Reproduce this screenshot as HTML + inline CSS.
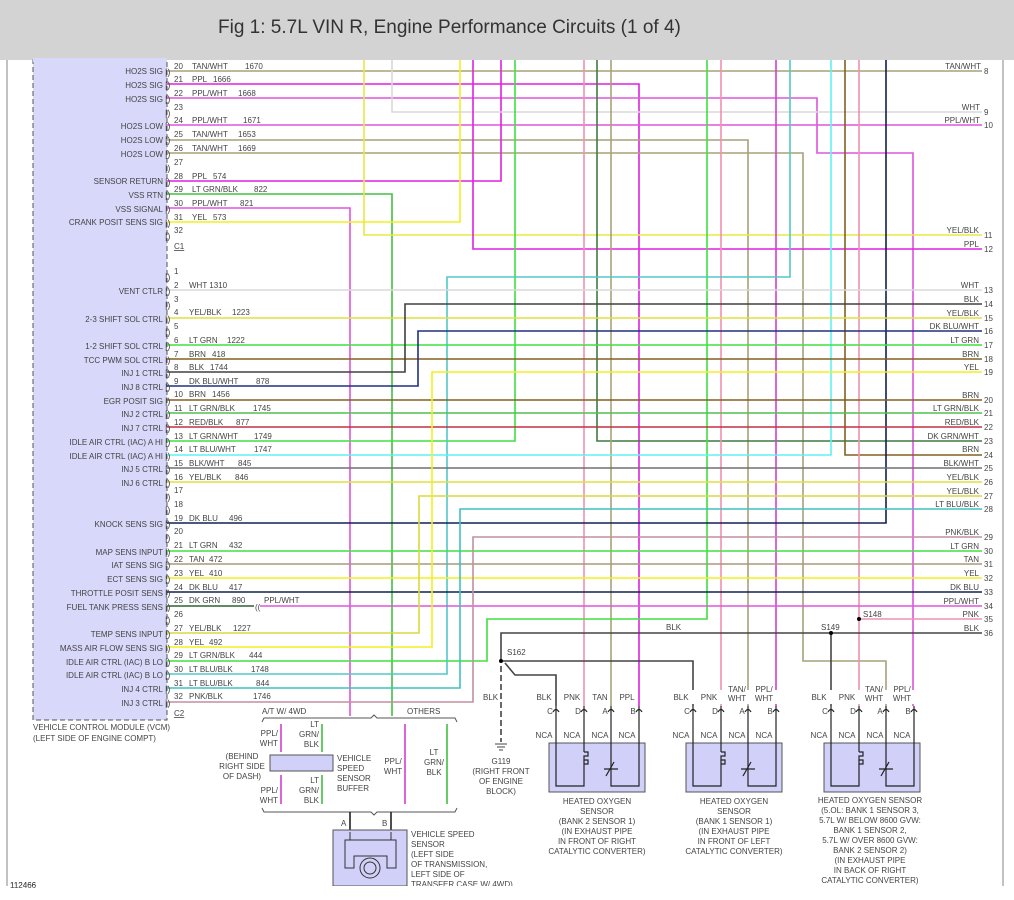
<!DOCTYPE html>
<html><head><meta charset="utf-8"><style>
html,body{margin:0;padding:0;background:#fff;}
svg{display:block;font-family:"Liberation Sans",sans-serif;}
.t{font-size:8px;fill:#444;}
.r{text-anchor:end}
.m{text-anchor:middle}
.w{fill:none;stroke-width:1.6}
</style></head><body>
<svg width="1014" height="900" viewBox="0 0 1014 900" xmlns="http://www.w3.org/2000/svg">
<rect x="0" y="0" width="1014" height="60" fill="#d3d3d3"/>
<text x="218" y="33" style="font-size:19px;fill:#333">Fig 1: 5.7L VIN R, Engine Performance Circuits (1 of 4)</text>
<line x1="7" y1="60" x2="7" y2="886" stroke="#999" stroke-width="1.2"/>
<line x1="1003" y1="60" x2="1003" y2="886" stroke="#999" stroke-width="1.2"/>
<!-- VCM box -->
<rect x="33" y="60" width="134" height="660" fill="#d8d8fa" stroke="#555" stroke-dasharray="5,3"/>
<rect x="33" y="58" width="134" height="4" fill="#d8d8fa"/>
<text class="t" x="33" y="730">VEHICLE CONTROL MODULE (VCM)</text>
<text class="t" x="33" y="741">(LEFT SIDE OF ENGINE COMPT)</text>
<text class="t" x="10" y="888">112466</text>

<!-- wires -->
<g class="w">
<!-- C1 -->
<polyline stroke="#a8a07a" points="167,71 982,71"/>
<polyline stroke="#e020e0" points="167,84 639,84 639,706"/>
<polyline stroke="#dd55dd" points="167,98 817,98 817,153 913,153 913,706"/>
<polyline stroke="#dd55dd" points="167,125 982,125"/>
<polyline stroke="#a8a07a" points="167,140 748,140 748,706"/>
<polyline stroke="#a8a07a" points="167,153 803,153 803,661 886,661 886,706"/>
<polyline stroke="#e020e0" points="167,181 501,181 501,60"/>
<polyline stroke="#44c044" points="167,194 392,194 392,716"/>
<polyline stroke="#dd55dd" points="167,208 350,208 350,716"/>
<polyline stroke="#f0f020" points="167,222 460,222 460,60"/>
<polyline stroke="#e8e840" points="364,60 364,235 982,235"/>
<polyline stroke="#d8d8d8" points="392,60 392,112 982,112"/>
<polyline stroke="#e020e0" points="473,60 473,249 982,249"/>
<polyline stroke="#40e040" points="515,60 515,441 167,441"/>
<polyline stroke="#f090b0" points="584,60 584,706"/>
<polyline stroke="#407a40" points="597,60 597,441 982,441"/>
<polyline stroke="#a8a07a" points="611,60 611,706"/>
<polyline stroke="#40e040" points="707,60 707,619 487,619 487,661 167,661"/>
<polyline stroke="#f090b0" points="721,60 721,706"/>
<polyline stroke="#d040d0" points="776,60 776,706"/>
<polyline stroke="#50c8c8" points="790,60 790,277 447,277 447,674 167,674"/>
<polyline stroke="#60f0f0" points="831,60 831,455 167,455"/>
<polyline stroke="#806020" points="845,60 845,455 982,455"/>
<polyline stroke="#f090b0" points="859,60 859,706"/>
<polyline stroke="#f090b0" points="859,619 982,619"/>
<polyline stroke="#102050" points="886,60 886,523 167,523"/>
<!-- C2 -->
<polyline stroke="#d8d8d8" points="167,290 982,290"/>
<polyline stroke="#e0e040" points="167,318 982,318"/>
<polyline stroke="#40e040" points="167,345 982,345"/>
<polyline stroke="#806020" points="167,359 982,359"/>
<polyline stroke="#404040" points="167,372 405,372 405,304 982,304"/>
<polyline stroke="#203080" points="167,386 418,386 418,331 982,331"/>
<polyline stroke="#806020" points="167,400 982,400"/>
<polyline stroke="#50c050" points="167,413 982,413"/>
<polyline stroke="#c03040" points="167,427 982,427"/>
<polyline stroke="#707070" points="167,468 982,468"/>
<polyline stroke="#e0e040" points="167,482 982,482"/>
<polyline stroke="#40e040" points="167,551 982,551"/>
<polyline stroke="#a8987a" points="167,564 982,564"/>
<polyline stroke="#f0f020" points="167,578 982,578"/>
<polyline stroke="#102050" points="167,592 982,592"/>
<polyline stroke="#306030" points="167,606 254,606"/>
<polyline stroke="#dd55dd" points="260,606 982,606"/>
<polyline stroke="#d8d840" points="167,633 419,633 419,496 982,496"/>
<polyline stroke="#f0f020" points="167,647 432,647 432,372 982,372"/>
<polyline stroke="#40c0c0" points="167,688 460,688 460,509 982,509"/>
<polyline stroke="#c090a0" points="167,702 473,702 473,537 982,537"/>
<!-- BLK ground -->
<polyline stroke="#444" points="501,661 501,633 982,633"/>
<polyline stroke="#444" points="501,661 693,661 693,706"/>
<polyline stroke="#444" points="505,663 515,675 556,675 556,706"/>
<polyline stroke="#444" points="831,633 831,706"/>
</g>
<text class="t" x="255" y="610">((</text>
<line x1="501" y1="666" x2="501" y2="742" stroke="#444" stroke-width="1.6" stroke-dasharray="6,3"/>
<circle cx="501" cy="661" r="2" fill="#000"/>
<circle cx="831" cy="633" r="2" fill="#000"/>
<circle cx="859" cy="619" r="2" fill="#000"/>
<g stroke="#444" stroke-width="1"><line x1="495" y1="744" x2="507" y2="744"/><line x1="497" y1="747" x2="505" y2="747"/><line x1="499" y1="750" x2="503" y2="750"/></g>
<text class="t" x="507" y="655">S162</text>
<text class="t" x="821" y="630">S149</text>
<text class="t" x="863" y="617">S148</text>
<text class="t" x="666" y="630">BLK</text>
<text class="t" x="483" y="700">BLK</text>
<text class="t m" x="501" y="764">G119</text>
<text class="t m" x="501" y="774">(RIGHT FRONT</text>
<text class="t m" x="501" y="784">OF ENGINE</text>
<text class="t m" x="501" y="794">BLOCK)</text>

<!-- left labels & pins -->
<g class="t">
<text class="r" x="163" y="74">HO2S SIG</text><text class="r" x="163" y="88">HO2S SIG</text><text class="r" x="163" y="102">HO2S SIG</text>
<text class="r" x="163" y="129">HO2S LOW</text><text class="r" x="163" y="143">HO2S LOW</text><text class="r" x="163" y="157">HO2S LOW</text>
<text class="r" x="163" y="184">SENSOR RETURN</text><text class="r" x="163" y="198">VSS RTN</text><text class="r" x="163" y="212">VSS SIGNAL</text><text class="r" x="163" y="225">CRANK POSIT SENS SIG</text>
<text class="r" x="163" y="294">VENT CTLR</text><text class="r" x="163" y="322">2-3 SHIFT SOL CTRL</text><text class="r" x="163" y="349">1-2 SHIFT SOL CTRL</text>
<text class="r" x="163" y="363">TCC PWM SOL CTRL</text><text class="r" x="163" y="376">INJ 1 CTRL</text><text class="r" x="163" y="390">INJ 8 CTRL</text>
<text class="r" x="163" y="404">EGR POSIT SIG</text><text class="r" x="163" y="417">INJ 2 CTRL</text><text class="r" x="163" y="431">INJ 7 CTRL</text>
<text class="r" x="163" y="445">IDLE AIR CTRL (IAC) A HI</text><text class="r" x="163" y="459">IDLE AIR CTRL (IAC) A HI</text>
<text class="r" x="163" y="472">INJ 5 CTRL</text><text class="r" x="163" y="486">INJ 6 CTRL</text><text class="r" x="163" y="527">KNOCK SENS SIG</text>
<text class="r" x="163" y="555">MAP SENS INPUT</text><text class="r" x="163" y="568">IAT SENS SIG</text><text class="r" x="163" y="582">ECT SENS SIG</text>
<text class="r" x="163" y="596">THROTTLE POSIT SENS</text><text class="r" x="163" y="610">FUEL TANK PRESS SENS</text>
<text class="r" x="163" y="637">TEMP SENS INPUT</text><text class="r" x="163" y="651">MASS AIR FLOW SENS SIG</text>
<text class="r" x="163" y="665">IDLE AIR CTRL (IAC) B LO</text><text class="r" x="163" y="678">IDLE AIR CTRL (IAC) B LO</text>
<text class="r" x="163" y="692">INJ 4 CTRL</text><text class="r" x="163" y="706">INJ 3 CTRL</text>

<text x="174" y="69">20</text><text x="192" y="69">TAN/WHT</text><text x="245" y="69">1670</text>
<text x="174" y="82">21</text><text x="192" y="82">PPL</text><text x="213" y="82">1666</text>
<text x="174" y="96">22</text><text x="192" y="96">PPL/WHT</text><text x="238" y="96">1668</text>
<text x="174" y="110">23</text>
<text x="174" y="123">24</text><text x="192" y="123">PPL/WHT</text><text x="243" y="123">1671</text>
<text x="174" y="137">25</text><text x="192" y="137">TAN/WHT</text><text x="238" y="137">1653</text>
<text x="174" y="151">26</text><text x="192" y="151">TAN/WHT</text><text x="238" y="151">1669</text>
<text x="174" y="165">27</text>
<text x="174" y="179">28</text><text x="192" y="179">PPL</text><text x="213" y="179">574</text>
<text x="174" y="192">29</text><text x="192" y="192">LT GRN/BLK</text><text x="254" y="192">822</text>
<text x="174" y="206">30</text><text x="192" y="206">PPL/WHT</text><text x="240" y="206">821</text>
<text x="174" y="220">31</text><text x="192" y="220">YEL</text><text x="213" y="220">573</text>
<text x="174" y="233">32</text>
<text x="174" y="249" text-decoration="underline">C1</text>
<text x="174" y="274">1</text>
<text x="174" y="288">2</text><text x="189" y="288">WHT 1310</text>
<text x="174" y="302">3</text>
<text x="174" y="315">4</text><text x="189" y="315">YEL/BLK</text><text x="232" y="315">1223</text>
<text x="174" y="329">5</text>
<text x="174" y="343">6</text><text x="189" y="343">LT GRN</text><text x="227" y="343">1222</text>
<text x="174" y="357">7</text><text x="189" y="357">BRN</text><text x="212" y="357">418</text>
<text x="174" y="370">8</text><text x="189" y="370">BLK</text><text x="210" y="370">1744</text>
<text x="174" y="384">9</text><text x="189" y="384">DK BLU/WHT</text><text x="256" y="384">878</text>
<text x="174" y="397">10</text><text x="189" y="397">BRN</text><text x="212" y="397">1456</text>
<text x="174" y="411">11</text><text x="189" y="411">LT GRN/BLK</text><text x="253" y="411">1745</text>
<text x="174" y="425">12</text><text x="189" y="425">RED/BLK</text><text x="236" y="425">877</text>
<text x="174" y="439">13</text><text x="189" y="439">LT GRN/WHT</text><text x="254" y="439">1749</text>
<text x="174" y="452">14</text><text x="189" y="452">LT BLU/WHT</text><text x="254" y="452">1747</text>
<text x="174" y="466">15</text><text x="189" y="466">BLK/WHT</text><text x="238" y="466">845</text>
<text x="174" y="480">16</text><text x="189" y="480">YEL/BLK</text><text x="235" y="480">846</text>
<text x="174" y="493">17</text><text x="174" y="507">18</text>
<text x="174" y="521">19</text><text x="189" y="521">DK BLU</text><text x="229" y="521">496</text>
<text x="174" y="534">20</text>
<text x="174" y="548">21</text><text x="189" y="548">LT GRN</text><text x="229" y="548">432</text>
<text x="174" y="562">22</text><text x="189" y="562">TAN</text><text x="209" y="562">472</text>
<text x="174" y="576">23</text><text x="189" y="576">YEL</text><text x="209" y="576">410</text>
<text x="174" y="590">24</text><text x="189" y="590">DK BLU</text><text x="229" y="590">417</text>
<text x="174" y="603">25</text><text x="189" y="603">DK GRN</text><text x="232" y="603">890</text><text x="264" y="603">PPL/WHT</text>
<text x="174" y="617">26</text>
<text x="174" y="631">27</text><text x="189" y="631">YEL/BLK</text><text x="233" y="631">1227</text>
<text x="174" y="645">28</text><text x="189" y="645">YEL</text><text x="209" y="645">492</text>
<text x="174" y="658">29</text><text x="189" y="658">LT GRN/BLK</text><text x="249" y="658">444</text>
<text x="174" y="672">30</text><text x="189" y="672">LT BLU/BLK</text><text x="251" y="672">1748</text>
<text x="174" y="686">31</text><text x="189" y="686">LT BLU/BLK</text><text x="256" y="686">844</text>
<text x="174" y="699">32</text><text x="189" y="699">PNK/BLK</text><text x="253" y="699">1746</text>
<text x="174" y="716" text-decoration="underline">C2</text>
</g>
<!-- connector marks -->
<g class="t" style="font-size:9px">
<text x="165" y="75">|)</text><text x="165" y="88">|)</text><text x="165" y="102">|)</text><text x="165" y="116">|)</text><text x="165" y="129">|)</text><text x="165" y="143">|)</text><text x="165" y="157">|)</text><text x="165" y="171">|)</text><text x="165" y="185">|)</text><text x="165" y="198">|)</text><text x="165" y="212">|)</text><text x="165" y="226">|)</text><text x="165" y="239">|)</text>
<text x="165" y="280">|)</text><text x="165" y="294">|)</text><text x="165" y="308">|)</text><text x="165" y="322">|)</text><text x="165" y="335">|)</text><text x="165" y="349">|)</text><text x="165" y="363">|)</text><text x="165" y="376">|)</text><text x="165" y="390">|)</text><text x="165" y="404">|)</text><text x="165" y="417">|)</text><text x="165" y="431">|)</text><text x="165" y="445">|)</text><text x="165" y="459">|)</text><text x="165" y="472">|)</text><text x="165" y="486">|)</text><text x="165" y="500">|)</text><text x="165" y="513">|)</text><text x="165" y="527">|)</text><text x="165" y="541">|)</text><text x="165" y="555">|)</text><text x="165" y="568">|)</text><text x="165" y="582">|)</text><text x="165" y="596">|)</text><text x="165" y="610">|)</text><text x="165" y="623">|)</text><text x="165" y="637">|)</text><text x="165" y="651">|)</text><text x="165" y="665">|)</text><text x="165" y="678">|)</text><text x="165" y="692">|)</text><text x="165" y="706">|)</text>
</g>
<!-- right labels -->
<g class="t">
<text class="r" x="981" y="69">TAN/WHT</text><text x="984" y="74">8</text>
<text class="r" x="980" y="110">WHT</text><text x="984" y="115">9</text>
<text class="r" x="980" y="123">PPL/WHT</text><text x="984" y="128">10</text>
<text class="r" x="979" y="233">YEL/BLK</text><text x="984" y="238">11</text>
<text class="r" x="979" y="247">PPL</text><text x="984" y="252">12</text>
<text class="r" x="979" y="288">WHT</text><text x="984" y="293">13</text>
<text class="r" x="979" y="302">BLK</text><text x="984" y="307">14</text>
<text class="r" x="979" y="316">YEL/BLK</text><text x="984" y="321">15</text>
<text class="r" x="979" y="329">DK BLU/WHT</text><text x="984" y="334">16</text>
<text class="r" x="979" y="343">LT GRN</text><text x="984" y="348">17</text>
<text class="r" x="979" y="357">BRN</text><text x="984" y="362">18</text>
<text class="r" x="979" y="370">YEL</text><text x="984" y="375">19</text>
<text class="r" x="979" y="398">BRN</text><text x="984" y="403">20</text>
<text class="r" x="979" y="411">LT GRN/BLK</text><text x="984" y="416">21</text>
<text class="r" x="979" y="425">RED/BLK</text><text x="984" y="430">22</text>
<text class="r" x="979" y="439">DK GRN/WHT</text><text x="984" y="444">23</text>
<text class="r" x="979" y="452">BRN</text><text x="984" y="458">24</text>
<text class="r" x="979" y="466">BLK/WHT</text><text x="984" y="471">25</text>
<text class="r" x="979" y="480">YEL/BLK</text><text x="984" y="485">26</text>
<text class="r" x="979" y="494">YEL/BLK</text><text x="984" y="499">27</text>
<text class="r" x="979" y="507">LT BLU/BLK</text><text x="984" y="512">28</text>
<text class="r" x="979" y="535">PNK/BLK</text><text x="984" y="540">29</text>
<text class="r" x="979" y="549">LT GRN</text><text x="984" y="554">30</text>
<text class="r" x="979" y="562">TAN</text><text x="984" y="567">31</text>
<text class="r" x="979" y="576">YEL</text><text x="984" y="581">32</text>
<text class="r" x="979" y="590">DK BLU</text><text x="984" y="595">33</text>
<text class="r" x="979" y="604">PPL/WHT</text><text x="984" y="609">34</text>
<text class="r" x="979" y="617">PNK</text><text x="984" y="622">35</text>
<text class="r" x="979" y="631">BLK</text><text x="984" y="636">36</text>
</g>

<!-- O2 sensors -->
<g id="s1">
<g class="t m">
<text x="544" y="700">BLK</text><text x="572" y="700">PNK</text><text x="600" y="700">TAN</text><text x="627" y="700">PPL</text>
<text x="550" y="714">C</text><text x="578" y="714">D</text><text x="605" y="714">A</text><text x="633" y="714">B</text>
<text x="544" y="738">NCA</text><text x="572" y="738">NCA</text><text x="600" y="738">NCA</text><text x="627" y="738">NCA</text>
</g>
<rect x="549" y="743" width="96" height="49" fill="#d0d0f8" stroke="#555"/>
<g fill="none" stroke="#222" stroke-width="1.2">
<path d="M556,706 V786 H584 V760 M584,706 V752 M611,706 V786 H639 V706"/>
<path d="M553,712 q3,-5 6,0 M581,712 q3,-5 6,0 M608,712 q3,-5 6,0 M636,712 q3,-5 6,0"/>
<path d="M584,752 h4 v4 h-4 v4 h4 v4 h-4 M604,769 h14 M606,776 l8,-14"/>
</g>
</g>
<use href="#s1" x="137"/>
<use href="#s1" x="275"/>
<rect x="660" y="690" width="130" height="14" fill="#fff"/>
<rect x="798" y="690" width="130" height="14" fill="#fff"/>
<g class="t m">
<text x="681" y="700">BLK</text><text x="709" y="700">PNK</text><text x="737" y="692">TAN/</text><text x="737" y="701">WHT</text><text x="764" y="692">PPL/</text><text x="764" y="701">WHT</text>
<text x="819" y="700">BLK</text><text x="847" y="700">PNK</text><text x="874" y="692">TAN/</text><text x="874" y="701">WHT</text><text x="902" y="692">PPL/</text><text x="902" y="701">WHT</text>
<text x="597" y="804">HEATED OXYGEN</text><text x="597" y="814">SENSOR</text><text x="597" y="824">(BANK 2 SENSOR 1)</text><text x="597" y="834">(IN EXHAUST PIPE</text><text x="597" y="844">IN FRONT OF RIGHT</text><text x="597" y="854">CATALYTIC CONVERTER)</text>
<text x="734" y="804">HEATED OXYGEN</text><text x="734" y="814">SENSOR</text><text x="734" y="824">(BANK 1 SENSOR 1)</text><text x="734" y="834">(IN EXHAUST PIPE</text><text x="734" y="844">IN FRONT OF LEFT</text><text x="734" y="854">CATALYTIC CONVERTER)</text>
<text x="870" y="803">HEATED OXYGEN SENSOR</text><text x="870" y="813">(5.OL: BANK 1 SENSOR 3,</text><text x="870" y="823">5.7L W/ BELOW 8600 GVW:</text><text x="870" y="833">BANK 1 SENSOR 2,</text><text x="870" y="843">5.7L W/ OVER 8600 GVW:</text><text x="870" y="853">BANK 2 SENSOR 2)</text><text x="870" y="863">(IN EXHAUST PIPE</text><text x="870" y="873">IN BACK OF RIGHT</text><text x="870" y="883">CATALYTIC CONVERTER)</text>
</g>

<!-- VSS buffer area -->
<g class="t">
<text x="262" y="714">A/T W/ 4WD</text><text x="407" y="714">OTHERS</text>
</g>
<path d="M262,722 l2,-4 H371 l3,-3 l3,3 H455 l2,4 M262,808 l2,4 H371 l3,3 l3,-3 H455 l2,-4" fill="none" stroke="#555"/>
<g class="w">
<line x1="281" y1="724" x2="281" y2="752" stroke="#d040d0"/>
<line x1="322" y1="724" x2="322" y2="752" stroke="#40c040"/>
<line x1="281" y1="775" x2="281" y2="804" stroke="#d040d0"/>
<line x1="322" y1="775" x2="322" y2="804" stroke="#40c040"/>
<line x1="405" y1="724" x2="405" y2="804" stroke="#d040d0"/>
<line x1="447" y1="724" x2="447" y2="804" stroke="#40c040"/>
<line x1="350" y1="812" x2="350" y2="832" stroke="#222"/>
<line x1="391" y1="812" x2="391" y2="832" stroke="#222"/>
</g>
<rect x="270" y="755" width="63" height="16" fill="#d0d0f8" stroke="#555"/>
<g class="t">
<text class="r" x="278" y="736">PPL/</text><text class="r" x="278" y="746">WHT</text>
<text class="r" x="319" y="727">LT</text><text class="r" x="319" y="737">GRN/</text><text class="r" x="319" y="747">BLK</text>
<text class="m" x="242" y="759">(BEHIND</text><text class="m" x="242" y="769">RIGHT SIDE</text><text class="m" x="242" y="779">OF DASH)</text>
<text x="337" y="761">VEHICLE</text><text x="337" y="771">SPEED</text><text x="337" y="781">SENSOR</text><text x="337" y="791">BUFFER</text>
<text class="r" x="278" y="793">PPL/</text><text class="r" x="278" y="803">WHT</text>
<text class="r" x="319" y="783">LT</text><text class="r" x="319" y="793">GRN/</text><text class="r" x="319" y="803">BLK</text>
<text class="m" x="393" y="764">PPL/</text><text class="m" x="393" y="774">WHT</text>
<text class="m" x="434" y="755">LT</text><text class="m" x="434" y="765">GRN/</text><text class="m" x="434" y="775">BLK</text>
<text x="341" y="826">A</text><text x="382" y="826">B</text>
<text x="411" y="837">VEHICLE SPEED</text><text x="411" y="847">SENSOR</text><text x="411" y="857">(LEFT SIDE</text><text x="411" y="867">OF TRANSMISSION,</text><text x="411" y="877">LEFT SIDE OF</text><text x="411" y="887">TRANSFER CASE W/ 4WD)</text>
</g>
<rect x="333" y="830" width="74" height="56" fill="#d0d0f8" stroke="#555"/>
<g fill="none" stroke="#333" stroke-width="1">
<path d="M350,832 V840 M391,832 V840 M345,840 H396 V868 H387 V856 H354 V868 H345 Z"/>
<circle cx="370" cy="868" r="10"/><circle cx="370" cy="868" r="6"/>
</g>
<rect x="0" y="886" width="1014" height="14" fill="#fff"/>
<text class="t" x="10" y="888">112466</text>
</svg>
</body></html>
